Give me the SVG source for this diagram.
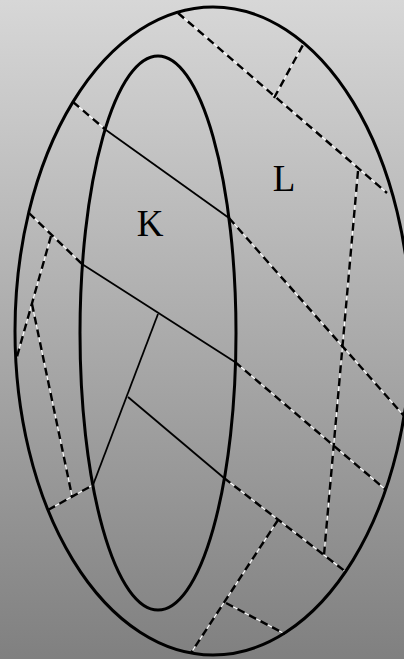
<svg xmlns="http://www.w3.org/2000/svg" width="404" height="659" viewBox="0 0 404 659">
<defs>
<linearGradient id="bg" x1="0" y1="0" x2="0" y2="1">
<stop offset="0" stop-color="#d7d7d7"/>
<stop offset="1" stop-color="#808080"/>
</linearGradient>
<style>
.reg{fill:none;stroke:#000;stroke-width:3}
.s{stroke:#000;stroke-width:1.8;fill:none}
.w{stroke:#fff;stroke-width:1.1;fill:none}
.d{stroke:#000;stroke-width:2.4;stroke-dasharray:8 5;fill:none}
.lab{font-family:"Liberation Serif","Times New Roman",serif;font-size:37px;fill:#000;text-anchor:middle}
</style>
</defs>
<rect x="0" y="0" width="404" height="659" fill="url(#bg)"/>
<g id="connectors">
<g id="dashed-under">
<path class="w" d="M73,102 L106,130 M229,218 L405,417 M178,13 L387,193 M274,98 L304,43 M358,171 L324,555 M29,213 L82,264 M51,236 L16,360 M32,304 L72,496 M48,510 L93,485 M235,362 L386,490 M224,478 L346,572 M278,520 L191,653 M226,603 L285,634"/>
</g>
<g id="dashed">
<path class="d" d="M73,102 L106,130"/>
<path class="d" d="M229,218 L405,417"/>
<path class="d" d="M178,13 L387,193"/>
<path class="d" d="M274,98 L304,43"/>
<path class="d" d="M358,171 L324,555"/>
<path class="d" d="M29,213 L82,264"/>
<path class="d" d="M51,236 L16,360"/>
<path class="d" d="M32,304 L72,496"/>
<path class="d" d="M48,510 L93,485"/>
<path class="d" d="M235,362 L386,490"/>
<path class="d" d="M224,478 L346,572"/>
<path class="d" d="M278,520 L191,653"/>
<path class="d" d="M226,603 L285,634"/>
</g>
<g id="solid">
<path class="s" d="M106,130 L229,218"/>
<path class="s" d="M82,264 L235,362"/>
<path class="s" d="M158,314 L93,485"/>
<path class="s" d="M128,397 L224,478"/>
</g>
</g>
<g id="L">
<ellipse class="reg" cx="213" cy="331" rx="198" ry="324"/>
<text class="lab" x="284" y="191">L</text>
</g>
<g id="K">
<ellipse class="reg" cx="158" cy="333" rx="78" ry="277"/>
<text class="lab" x="150" y="236">K</text>
</g>
</svg>
